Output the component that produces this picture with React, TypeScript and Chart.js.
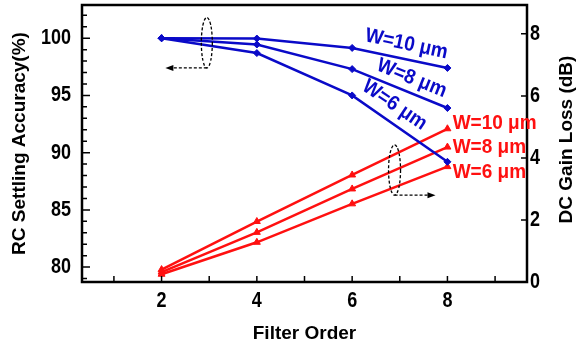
import React, { useEffect, useRef } from "react";
import { Chart, registerables } from "chart.js";

Chart.register(...registerables);

const filterOrder = [2, 4, 6, 8];
const accW10 = [100, 99.97, 99.15, 97.4];
const accW8 = [100, 99.45, 97.3, 93.9];
const accW6 = [100, 98.7, 95.0, 89.2];
const lossW10 = [0.4, 1.95, 3.45, 4.94];
const lossW8 = [0.32, 1.6, 3.0, 4.35];
const lossW6 = [0.25, 1.28, 2.52, 3.72];
const xTicks = [2, 4, 6, 8];
const xMinorTicks = [1, 3, 5, 7, 9];
const leftTicks = [80, 85, 90, 95, 100];
const leftMinorTicks = [79, 81, 82, 83, 84, 86, 87, 88, 89, 91, 92, 93, 94, 96, 97, 98, 99, 101, 102];
const rightTicks = [0, 2, 4, 6, 8];
const seriesLabels = ["W=10 μm", "W=8 μm", "W=6 μm"];

const BLUE = "#0a0ac8";
const RED = "#ff1010";
const FONT = "'Liberation Sans', Arial, sans-serif";

const toPts = (ys: number[]) => filterOrder.map((x, i) => ({ x, y: ys[i] }));

const overlay = {
  id: "overlay",
  afterDraw(chart: any) {
    const { ctx, chartArea: a, scales } = chart;
    const sx = scales.x, sy = scales.y, sy1 = scales.y1;
    ctx.save();
    // frame
    ctx.strokeStyle = "#000";
    ctx.lineWidth = 2.5;
    ctx.strokeRect(a.left, a.top, a.right - a.left, a.bottom - a.top);
    ctx.lineWidth = 1.5;
    ctx.beginPath();
    const tick = (x1: number, y1: number, x2: number, y2: number) => {
      ctx.moveTo(x1, y1);
      ctx.lineTo(x2, y2);
    };
    [...xTicks, ...xMinorTicks].forEach((v) => {
      const px = sx.getPixelForValue(v);
      tick(px, a.bottom, px, a.bottom - 6);
    });
    leftTicks.forEach((v) => {
      const py = sy.getPixelForValue(v);
      tick(a.left, py, a.left + 8, py);
    });
    leftMinorTicks.forEach((v) => {
      const py = sy.getPixelForValue(v);
      tick(a.left, py, a.left + 5, py);
    });
    rightTicks.forEach((v) => {
      const py = sy1.getPixelForValue(v);
      tick(a.right, py, a.right - 6, py);
    });
    ctx.stroke();

    // stretched text helper
    const txt = (s: string, x: number, y: number, align: CanvasTextAlign, sv: number) => {
      ctx.save();
      ctx.translate(x, y);
      ctx.scale(1, sv);
      ctx.textAlign = align;
      ctx.textBaseline = "middle";
      ctx.fillText(s, 0, 0);
      ctx.restore();
    };

    // tick labels
    ctx.fillStyle = "#000";
    ctx.font = `bold 18px ${FONT}`;
    xTicks.forEach((v) => txt(String(v), sx.getPixelForValue(v), 301, "center", 1.2));
    leftTicks.forEach((v) => txt(String(v), a.left - 11, sy.getPixelForValue(v), "right", 1.2));
    rightTicks.forEach((v) => txt(String(v), a.right + 3, sy1.getPixelForValue(v), "left", 1.2));

    // titles
    ctx.font = `bold 19px ${FONT}`;
    ctx.textAlign = "center";
    ctx.textBaseline = "middle";
    ctx.fillText("Filter Order", (a.left + a.right) / 2, 334);
    const cy = (a.top + a.bottom) / 2;
    ctx.save();
    ctx.translate(20, cy);
    ctx.rotate(-Math.PI / 2);
    ctx.fillText("RC Settling Accuracy(%)", 0, 0);
    ctx.restore();
    ctx.save();
    ctx.translate(567, cy - 4);
    ctx.rotate(-Math.PI / 2);
    ctx.fillText("DC Gain Loss (dB)", 0, 0);
    ctx.restore();

    // dashed ellipses + arrows
    const ellipse = (cxv: number, cyv: number, rx: number, ry: number) => {
      ctx.save();
      ctx.setLineDash([3, 2]);
      ctx.lineWidth = 1.3;
      ctx.strokeStyle = "#000";
      ctx.beginPath();
      ctx.ellipse(cxv, cyv, rx, ry, 0, 0, Math.PI * 2);
      ctx.stroke();
      ctx.restore();
    };
    const arrow = (x1: number, y1: number, x2: number, dir: number) => {
      ctx.save();
      ctx.setLineDash([3, 2]);
      ctx.lineWidth = 1.3;
      ctx.strokeStyle = "#000";
      ctx.beginPath();
      ctx.moveTo(x1, y1);
      ctx.lineTo(x2 - dir * 6, y1);
      ctx.stroke();
      ctx.setLineDash([]);
      ctx.fillStyle = "#000";
      ctx.beginPath();
      ctx.moveTo(x2, y1);
      ctx.lineTo(x2 - dir * 8, y1 - 3);
      ctx.lineTo(x2 - dir * 8, y1 + 3);
      ctx.closePath();
      ctx.fill();
      ctx.restore();
    };
    const e1x = sx.getPixelForValue(2.95);
    const e1y = sy.getPixelForValue(99.6);
    const e1ry = Math.abs(sy.getPixelForValue(99.6) - sy.getPixelForValue(97.4));
    ellipse(e1x, e1y, 5.5, e1ry);
    arrow(e1x, e1y + e1ry, sx.getPixelForValue(2.08), -1);

    const e2x = sx.getPixelForValue(6.89);
    const e2y = sy1.getPixelForValue(3.61);
    const e2ry = Math.abs(sy1.getPixelForValue(3.61) - sy1.getPixelForValue(2.8));
    ellipse(e2x, e2y, 6, e2ry);
    arrow(e2x, e2y + e2ry, sx.getPixelForValue(7.75), 1);

    // blue rotated labels
    ctx.font = `bold 19px ${FONT}`;
    ctx.fillStyle = BLUE;
    const blue = [
      { x: 7.14, y: 99.48, ang: 12 },
      { x: 7.25, y: 96.5, ang: 22 },
      { x: 6.89, y: 94.15, ang: 34 },
    ];
    blue.forEach((b, i) => {
      ctx.save();
      ctx.translate(sx.getPixelForValue(b.x), sy.getPixelForValue(b.y));
      ctx.rotate((b.ang * Math.PI) / 180);
      ctx.scale(1, 1.08);
      ctx.textAlign = "center";
      ctx.textBaseline = "middle";
      ctx.fillText(seriesLabels[i], 0, 0);
      ctx.restore();
    });
    // red labels
    ctx.fillStyle = RED;
    const red = [5.13, 4.35, 3.55];
    red.forEach((v, i) => {
      txt(seriesLabels[i], sx.getPixelForValue(8.11), sy1.getPixelForValue(v), "left", 1.08);
    });
    ctx.restore();
  },
};

export default function App() {
  const ref = useRef<HTMLCanvasElement>(null);
  useEffect(() => {
    const ds = (data: number[], color: string, axis: string, style: string, r: number) => ({
      data: toPts(data),
      yAxisID: axis,
      borderColor: color,
      backgroundColor: color,
      borderWidth: 2.5,
      pointStyle: style,
      pointRadius: r,
      pointBorderWidth: 1,
      tension: 0,
    });
    const noPadV = (w: number) => (s: any) => { s.width = w; s.paddingTop = 0; s.paddingBottom = 0; };
    const chart = new Chart(ref.current!, {
      type: "line",
      data: {
        datasets: [
          ds(accW10, BLUE, "y", "rectRot", 3.5),
          ds(accW8, BLUE, "y", "rectRot", 3.5),
          ds(accW6, BLUE, "y", "rectRot", 3.5),
          ds(lossW10, RED, "y1", "triangle", 4),
          ds(lossW8, RED, "y1", "triangle", 4),
          ds(lossW6, RED, "y1", "triangle", 4),
        ] as any,
      },
      options: {
        animation: false,
        responsive: false,
        layout: { padding: { top: 5, left: 0, right: 0, bottom: 0 } },
        plugins: { legend: { display: false }, tooltip: { enabled: false } },
        scales: {
          x: {
            type: "linear",
            min: 0.33,
            max: 9.67,
            grid: { display: false },
            border: { display: false },
            afterBuildTicks: (s: any) => { s.ticks = xTicks.map((v) => ({ value: v })); },
            afterFit: (s: any) => { s.height = 68; s.paddingLeft = 0; s.paddingRight = 0; },
            ticks: { display: false },
          },
          y: {
            position: "left",
            min: 78.7,
            max: 102.9,
            grid: { display: false },
            border: { display: false },
            afterBuildTicks: (s: any) => { s.ticks = leftTicks.map((v) => ({ value: v })); },
            afterFit: noPadV(82),
            ticks: { display: false },
          },
          y1: {
            position: "right",
            min: 0,
            max: 8.93,
            grid: { display: false },
            border: { display: false },
            afterBuildTicks: (s: any) => { s.ticks = rightTicks.map((v) => ({ value: v })); },
            afterFit: noPadV(50),
            ticks: { display: false },
          },
        },
      } as any,
      plugins: [overlay],
    });
    return () => chart.destroy();
  }, []);
  return (
    <div style={{ position: "absolute", left: 0, top: 0, width: 577, height: 350, background: "#fff" }}>
      <canvas ref={ref} width={577} height={350} />
    </div>
  );
}
